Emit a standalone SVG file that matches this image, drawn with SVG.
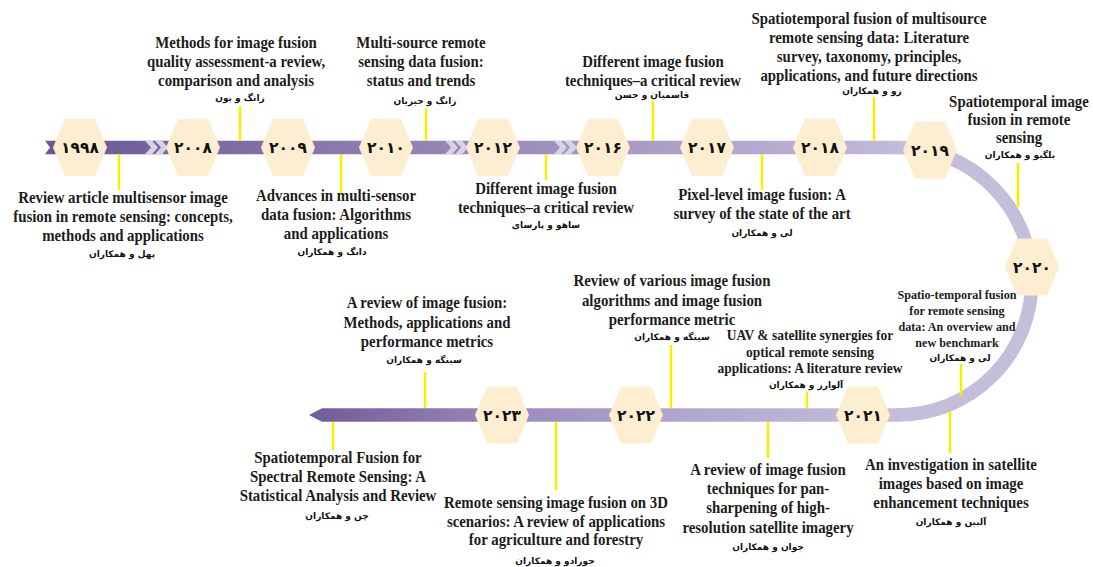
<svg xmlns="http://www.w3.org/2000/svg" xmlns:xlink="http://www.w3.org/1999/xlink" width="1093" height="567" viewBox="0 0 1093 567">
  <style>
    .t { font-family: "Liberation Serif", "Times New Roman", serif; font-weight: bold; font-size: 16.5px; fill: #1c1c1c; text-anchor: middle; }
    .t.s15 { font-size: 15px; }
    .t.s13 { font-size: 13.5px; }
    .fa { font-family: "DejaVu Sans", sans-serif; font-weight: bold; font-size: 9px; fill: #111; text-anchor: middle; }
    .yr { font-family: "DejaVu Sans", sans-serif; font-weight: bold; font-size: 15.5px; fill: #111; text-anchor: middle; }
    .hex { fill: #fdeed2; }
    .lead { stroke: #f6f000; stroke-width: 2.5; fill: none; }
    .chev { fill: #d8d2e6; }
  </style>
  <defs>
    <linearGradient id="topBand" gradientUnits="userSpaceOnUse" x1="45" y1="0" x2="900" y2="0">
      <stop offset="0" stop-color="#6a5794"/>
      <stop offset="0.35" stop-color="#8a7aaf"/>
      <stop offset="0.7" stop-color="#a99dc6"/>
      <stop offset="1" stop-color="#c2bad9"/>
    </linearGradient>
    <linearGradient id="bottomBand" gradientUnits="userSpaceOnUse" x1="309" y1="0" x2="900" y2="0">
      <stop offset="0" stop-color="#6f5c99"/>
      <stop offset="0.35" stop-color="#9a8cbd"/>
      <stop offset="0.6" stop-color="#afa4cc"/>
      <stop offset="1" stop-color="#c5bedb"/>
    </linearGradient>
    <path id="hex" class="hex" d="M-27,0 L-15,-28.5 L15,-28.5 L27,0 L15,28.5 L-15,28.5 Z"/>
    <path id="chev" class="chev" d="M0,-6.75 L7,-6.75 L13,0 L7,6.75 L0,6.75 L6,0 Z"/>
  </defs>

  <!-- timeline track -->
  <g id="track">
    <polygon points="45,140.75 900,140.75 900,154.25 45,154.25 50,147.5" fill="url(#topBand)"/>
    <path d="M898,147.5 A133.75,133.75 0 0 1 898,415" fill="none" stroke="#c5bedb" stroke-width="13.5"/>
    <polygon points="309,415 322,408.25 900,408.25 900,421.75 322,421.75" fill="url(#bottomBand)"/>
    <use href="#chev" transform="translate(145,147.5)"/>
    <use href="#chev" transform="translate(155,147.5)"/>
    <use href="#chev" transform="translate(445,147.5)"/>
    <use href="#chev" transform="translate(455,147.5)"/>
    <use href="#chev" transform="translate(554,147.5)"/>
    <use href="#chev" transform="translate(564,147.5)"/>
  </g>

  <!-- leader lines from the track to each reference -->
  <g id="connectors" class="lead">
    <line x1="119" y1="154" x2="119" y2="190"/>
    <line x1="240" y1="106" x2="240" y2="141"/>
    <line x1="341" y1="154" x2="341" y2="193"/>
    <line x1="426" y1="108" x2="426" y2="141"/>
    <line x1="546" y1="154" x2="546" y2="180"/>
    <line x1="653" y1="101" x2="653" y2="141"/>
    <line x1="762" y1="154" x2="762" y2="190"/>
    <line x1="874" y1="97" x2="874" y2="141"/>
    <line x1="1018" y1="163" x2="1018" y2="207"/>
    <line x1="961" y1="364" x2="961" y2="396"/>
    <line x1="807" y1="392" x2="807" y2="408"/>
    <line x1="950" y1="411" x2="950" y2="453"/>
    <line x1="671" y1="345" x2="671" y2="408"/>
    <line x1="425" y1="372" x2="425" y2="408"/>
    <line x1="333" y1="422" x2="333" y2="450"/>
    <line x1="556" y1="422" x2="556" y2="490"/>
    <line x1="768" y1="422" x2="768" y2="458"/>
  </g>

  <!-- year nodes -->
  <g id="n1998" transform="translate(80,147.5)"><use href="#hex"/><text class="yr" y="5.5">۱۹۹۸</text></g>
  <g id="n2008" transform="translate(193,147.5)"><use href="#hex"/><text class="yr" y="5.5">۲۰۰۸</text></g>
  <g id="n2009" transform="translate(288,147.5)"><use href="#hex"/><text class="yr" y="5.5">۲۰۰۹</text></g>
  <g id="n2010" transform="translate(386,147.5)"><use href="#hex"/><text class="yr" y="5.5">۲۰۱۰</text></g>
  <g id="n2012" transform="translate(493,147.5)"><use href="#hex"/><text class="yr" y="5.5">۲۰۱۲</text></g>
  <g id="n2016" transform="translate(603,147.5)"><use href="#hex"/><text class="yr" y="5.5">۲۰۱۶</text></g>
  <g id="n2017" transform="translate(707,147.5)"><use href="#hex"/><text class="yr" y="5.5">۲۰۱۷</text></g>
  <g id="n2018" transform="translate(820,147.5)"><use href="#hex"/><text class="yr" y="5.5">۲۰۱۸</text></g>
  <g id="n2019" transform="translate(930,150)"><use href="#hex"/><text class="yr" y="5.5">۲۰۱۹</text></g>
  <g id="n2020" transform="translate(1032,267)"><use href="#hex"/><text class="yr" y="5.5">۲۰۲۰</text></g>
  <g id="n2021" transform="translate(863,415)"><use href="#hex"/><text class="yr" y="5.5">۲۰۲۱</text></g>
  <g id="n2022" transform="translate(636,415)"><use href="#hex"/><text class="yr" y="5.5">۲۰۲۲</text></g>
  <g id="n2023" transform="translate(502,415)"><use href="#hex"/><text class="yr" y="5.5">۲۰۲۳</text></g>

  <!-- reference labels: titles (condensed serif) and authors -->
  <g id="ref-2008">
    <text class="t" transform="translate(236 0) scale(0.9 1)"><tspan x="0" y="48">Methods for image fusion</tspan><tspan x="0" y="67">quality assessment-a review,</tspan><tspan x="0" y="86">comparison and analysis</tspan></text>
    <text class="fa" x="240" y="101">زانگ و یون</text>
  </g>
  <g id="ref-2010">
    <text class="t" transform="translate(421 0) scale(0.9 1)"><tspan x="0" y="48">Multi-source remote</tspan><tspan x="0" y="67">sensing data fusion:</tspan><tspan x="0" y="86">status and trends</tspan></text>
    <text class="fa" x="425" y="104">زانگ و جیزیان</text>
  </g>
  <g id="ref-2016">
    <text class="t" transform="translate(653 0) scale(0.9 1)"><tspan x="0" y="67">Different image fusion</tspan><tspan x="0" y="86">techniques–a critical review</tspan></text>
    <text class="fa" x="652" y="98">قاسمیان و حسن</text>
  </g>
  <g id="ref-2018">
    <text class="t" transform="translate(869 0) scale(0.9 1)"><tspan x="0" y="24">Spatiotemporal fusion of multisource</tspan><tspan x="0" y="43">remote sensing data: Literature</tspan><tspan x="0" y="62">survey, taxonomy, principles,</tspan><tspan x="0" y="81">applications, and future directions</tspan></text>
    <text class="fa" x="872" y="94">زو و همکاران</text>
  </g>
  <g id="ref-2019">
    <text class="t" transform="translate(1019 0) scale(0.9 1)"><tspan x="0" y="107">Spatiotemporal image</tspan><tspan x="0" y="125">fusion in remote</tspan><tspan x="0" y="143">sensing</tspan></text>
    <text class="fa" x="1020" y="158">بلگیو و همکاران</text>
  </g>
  <g id="ref-1998">
    <text class="t" transform="translate(123 0) scale(0.9 1)"><tspan x="0" y="203">Review article multisensor image</tspan><tspan x="0" y="222">fusion in remote sensing: concepts,</tspan><tspan x="0" y="241">methods and applications</tspan></text>
    <text class="fa" x="122" y="257">پهل و همکاران</text>
  </g>
  <g id="ref-2009">
    <text class="t" transform="translate(336 0) scale(0.9 1)"><tspan x="0" y="201">Advances in multi-sensor</tspan><tspan x="0" y="220">data fusion: Algorithms</tspan><tspan x="0" y="239">and applications</tspan></text>
    <text class="fa" x="332" y="255">دانگ و همکاران</text>
  </g>
  <g id="ref-2012">
    <text class="t" transform="translate(546 0) scale(0.9 1)"><tspan x="0" y="194">Different image fusion</tspan><tspan x="0" y="213">techniques–a critical review</tspan></text>
    <text class="fa" x="546" y="228">ساهو و پارسای</text>
  </g>
  <g id="ref-2017">
    <text class="t" transform="translate(762 0) scale(0.9 1)"><tspan x="0" y="200">Pixel-level image fusion: A</tspan><tspan x="0" y="219">survey of the state of the art</tspan></text>
    <text class="fa" x="762" y="236">لی و همکاران</text>
  </g>
  <g id="ref-2023a">
    <text class="t" transform="translate(427 0) scale(0.9 1)"><tspan x="0" y="308">A review of image fusion:</tspan><tspan x="0" y="328">Methods, applications and</tspan><tspan x="0" y="347">performance metrics</tspan></text>
    <text class="fa" x="424" y="363">سینگه و همکاران</text>
  </g>
  <g id="ref-2022a">
    <text class="t" transform="translate(672 0) scale(0.9 1)"><tspan x="0" y="286">Review of various image fusion</tspan><tspan x="0" y="306">algorithms and image fusion</tspan><tspan x="0" y="325">performance metric</tspan></text>
    <text class="fa" x="672" y="340">سینگه و همکاران</text>
  </g>
  <g id="ref-2021a">
    <text class="t s15" transform="translate(810 0) scale(0.9 1)"><tspan x="0" y="340">UAV &amp; satellite synergies for</tspan><tspan x="0" y="357">optical remote sensing</tspan><tspan x="0" y="373">applications: A literature review</tspan></text>
    <text class="fa" x="806" y="387.5">آلوارز و همکاران</text>
  </g>
  <g id="ref-2020">
    <text class="t s13" transform="translate(957 0) scale(0.9 1)"><tspan x="0" y="299">Spatio-temporal fusion</tspan><tspan x="0" y="315">for remote sensing</tspan><tspan x="0" y="331">data: An overview and</tspan><tspan x="0" y="347">new benchmark</tspan></text>
    <text class="fa" x="960" y="361">لی و همکاران</text>
  </g>
  <g id="ref-2023b">
    <text class="t" transform="translate(338 0) scale(0.9 1)"><tspan x="0" y="463">Spatiotemporal Fusion for</tspan><tspan x="0" y="482">Spectral Remote Sensing: A</tspan><tspan x="0" y="501">Statistical Analysis and Review</tspan></text>
    <text class="fa" x="337" y="519">چن و همکاران</text>
  </g>
  <g id="ref-2023c">
    <text class="t" transform="translate(556 0) scale(0.9 1)"><tspan x="0" y="508">Remote sensing image fusion on 3D</tspan><tspan x="0" y="527">scenarios: A review of applications</tspan><tspan x="0" y="545">for agriculture and forestry</tspan></text>
    <text class="fa" x="555" y="564">جورادو و همکاران</text>
  </g>
  <g id="ref-2022b">
    <text class="t" transform="translate(768 0) scale(0.9 1)"><tspan x="0" y="475">A review of image fusion</tspan><tspan x="0" y="494">techniques for pan-</tspan><tspan x="0" y="513">sharpening of high-</tspan><tspan x="0" y="533">resolution satellite imagery</tspan></text>
    <text class="fa" x="768" y="550">جوان و همکاران</text>
  </g>
  <g id="ref-2021b">
    <text class="t" transform="translate(951 0) scale(0.9 1)"><tspan x="0" y="470">An investigation in satellite</tspan><tspan x="0" y="489">images based on image</tspan><tspan x="0" y="508">enhancement techniques</tspan></text>
    <text class="fa" x="951" y="525">آلبین و همکاران</text>
  </g>
</svg>
